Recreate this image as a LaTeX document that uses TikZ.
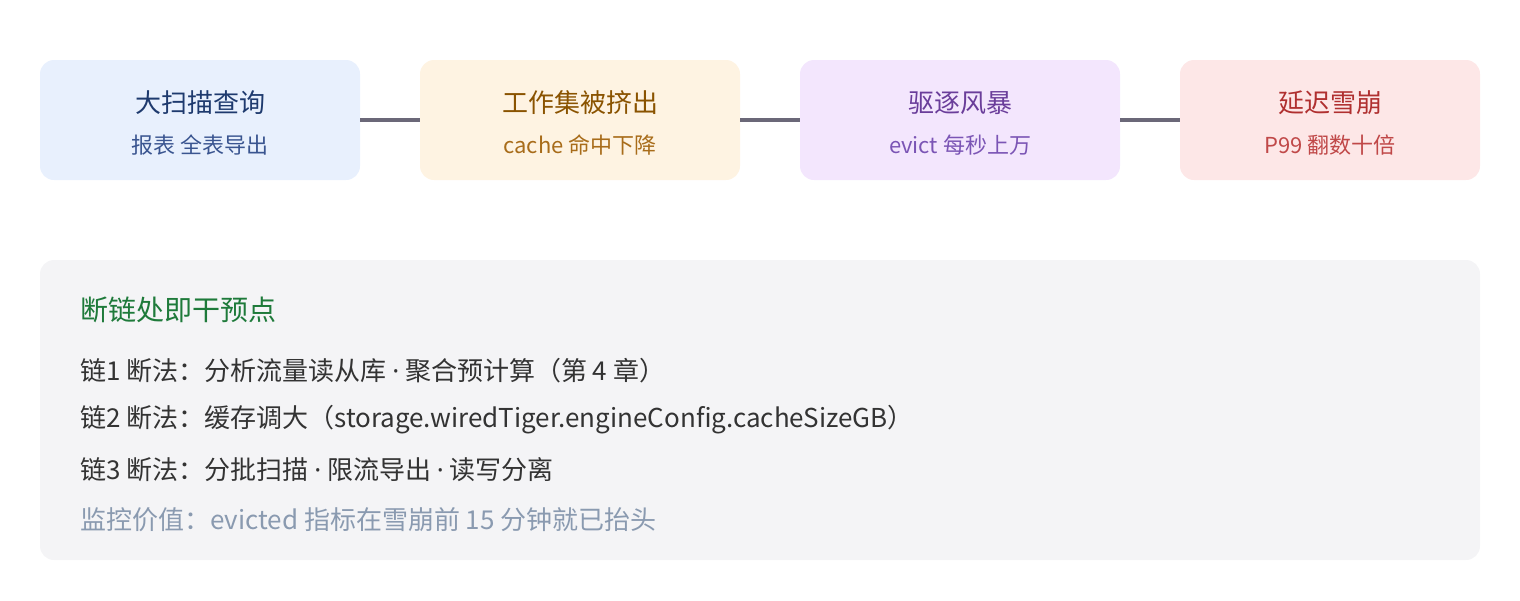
\documentclass[tikz,border=0pt]{standalone}
\usepackage{fontspec}
\setmainfont{Noto Sans CJK SC}
\newfontfamily\latinfont{Noto Sans}
\usetikzlibrary{positioning}

\definecolor{scanfill}{HTML}{E8F0FD}\definecolor{scantext}{HTML}{1E3A6E}\definecolor{scansub}{HTML}{3A5590}
\definecolor{workfill}{HTML}{FEF3E2}\definecolor{worktext}{HTML}{8A5300}\definecolor{worksub}{HTML}{A86C1A}
\definecolor{evictfill}{HTML}{F3E6FD}\definecolor{evicttext}{HTML}{6A3D9A}\definecolor{evictsub}{HTML}{7B55B5}
\definecolor{lagfill}{HTML}{FDE7E7}\definecolor{lagtext}{HTML}{B03030}\definecolor{lagsub}{HTML}{C04848}
\definecolor{notefill}{HTML}{F4F4F6}\definecolor{notehead}{HTML}{1E7A3A}\definecolor{notetext}{HTML}{333333}\definecolor{notegrey}{HTML}{8A9AB0}
\definecolor{linkgrey}{HTML}{6B6878}

\tikzstyle{chain} = [rectangle, rounded corners=14pt, minimum width=320pt, minimum height=120pt, text centered, align=center, draw=none, inner sep=0pt]
\tikzstyle{notebox} = [rectangle, rounded corners=14pt, minimum width=1440pt, minimum height=300pt, draw=none, fill=notefill]
\tikzstyle{noteline} = [anchor=west, inner sep=0pt, font=\fontsize{26}{30}\selectfont, text=notetext]
\tikzstyle{link} = [line width=4pt, linkgrey]

\newcommand{\chaintext}[4]{{\color{#1}\fontsize{26}{30}\selectfont\rule{0pt}{28pt}#2}\\[19pt]{\color{#3}\fontsize{22}{26}\selectfont #4}}
\newcommand{\sepdot}{ {\latinfont ·} }

\begin{document}
\begin{tikzpicture}[x=1pt, y=-1pt, node distance=380pt]
        \useasboundingbox (0,0) rectangle (1520,600);
        \node (Scan) [chain, fill=scanfill] at (200,120) {\chaintext{scantext}{大扫描查询}{scansub}{报表 全表导出}};
        \node (Work Set) [chain, fill=workfill, right of = Scan] {\chaintext{worktext}{工作集被挤出}{worksub}{cache 命中下降}};
        \node (Evict) [chain, fill=evictfill, right of = Work Set] {\chaintext{evicttext}{驱逐风暴}{evictsub}{evict 每秒上万}};
        \node (Latency) [chain, fill=lagfill, minimum width=300pt, right of = Evict, xshift=-10pt] {\chaintext{lagtext}{延迟雪崩}{lagsub}{P99 翻数十倍}};

        \draw [link] (Scan) -- (Work Set);
        \draw [link] (Work Set) -- (Evict);
        \draw [link] (Evict) -- (Latency);

        \node (Notes) [notebox] at (760,410) {};
        \node (Note Head) [noteline, text=notehead, font=\fontsize{28}{32}\selectfont] at (80,310) {断链处即干预点};
        \node (Fix One) [noteline] at (80,371) {链1 断法：分析流量读从库\sepdot 聚合预计算（第 4 章）};
        \node (Fix Two) [noteline] at (80,420) {链2 断法：缓存调大（storage.wiredTiger.engineConfig.cacheSizeGB）};
        \node (Fix Three) [noteline] at (80,470) {链3 断法：分批扫描\sepdot 限流导出\sepdot 读写分离};
        \node (Monitor) [noteline, text=notegrey] at (80,520) {监控价值：evicted 指标在雪崩前 15 分钟就已抬头};
    \end{tikzpicture}
\end{document}
